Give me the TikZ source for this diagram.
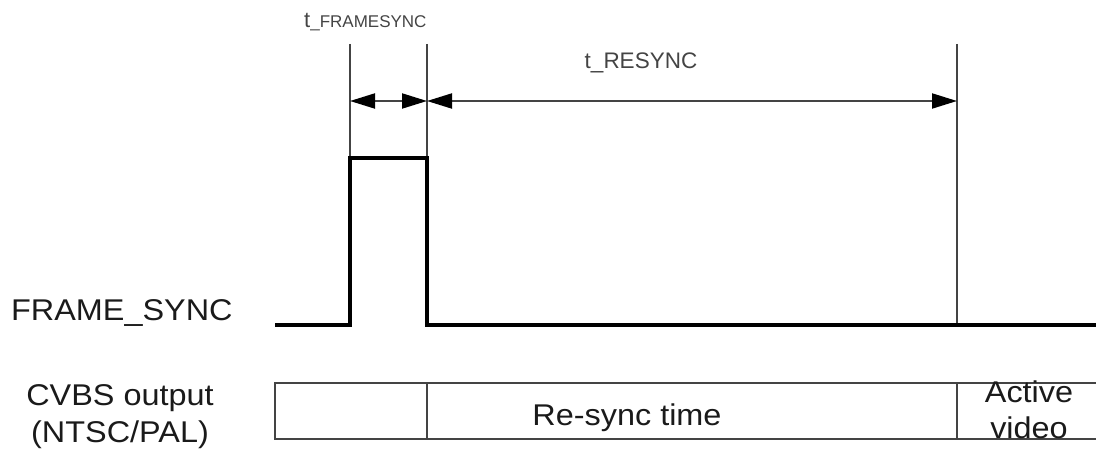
\documentclass[tikz,border=0pt]{standalone}
\usepackage{fontspec}
\setmainfont{Liberation Sans}
\usetikzlibrary{arrows.meta}
\definecolor{thin}{HTML}{444444}
\definecolor{txt}{HTML}{1A1A1A}
\newcommand{\wide}[1]{\scalebox{1.08}[1]{#1}}
\begin{document}
\begin{tikzpicture}[x=1pt,y=-1pt,
  thinline/.style={draw=thin,line width=2pt},
  sig/.style={draw=black,line width=4.5pt,line join=miter},
  dim/.style={draw=thin,line width=2pt,{Triangle[length=25pt,width=15pt,color=black]}-{Triangle[length=25pt,width=15pt,color=black]}},
  big/.style={font=\fontsize{30}{37}\selectfont,text=txt,inner sep=0pt},
  lab/.style={text=thin,inner sep=0pt}]
\useasboundingbox (0,0) rectangle (1096,449);
% key coordinates
\coordinate (a0) at (350,44);
\coordinate (b0) at (427,44);
\coordinate (c0) at (957,44);
\coordinate (aA) at (350,101);
\coordinate (bA) at (427,101);
\coordinate (cA) at (957,101);
\coordinate (s0) at (275,325);
\coordinate (s1) at (350,325);
\coordinate (s2) at (350,158);
\coordinate (s3) at (427,158);
\coordinate (s4) at (427,325);
\coordinate (s5) at (1096,325);
\coordinate (cB) at (957,325);
% vertical markers
\draw[thinline] (a0) -- (s2);
\draw[thinline] (b0) -- (s3);
\draw[thinline] (c0) -- (cB);
% dimension arrows
\draw[dim] (aA) -- (bA);
\draw[dim] (bA) -- (cA);
% signal
\draw[sig] (s0) -- (s1) -- (s2) -- (s3) -- (s4) -- (s5);
% CVBS box
\coordinate (bx0) at (275,383);
\coordinate (bx1) at (275,439);
\coordinate (bx2) at (1096,383);
\coordinate (bx3) at (1096,439);
\coordinate (d1t) at (427,383);
\coordinate (d1b) at (427,439);
\coordinate (d2t) at (957,383);
\coordinate (d2b) at (957,439);
\draw[thinline] (bx2) -- (bx0) -- (bx1) -- (bx3);
\draw[thinline] (d1t) -- (d1b);
\draw[thinline] (d2t) -- (d2b);
% labels
\node[lab,anchor=base west] (tfs) at (304,28) {{\fontsize{22}{24}\selectfont t}{\fontsize{17}{20}\selectfont\_FRAMESYNC}};
\node[lab,anchor=base,font=\fontsize{22.5}{26}\selectfont] (trs) at (641,69) {t\_RESYNC};
\node[big,anchor=base west] (fsl) at (11,320) {\wide{FRAME\_SYNC}};
\node[big,anchor=base] (cvbs1) at (120,405) {\wide{CVBS output}};
\node[big,anchor=base] (cvbs2) at (120,442) {\wide{(NTSC/PAL)}};
\node[big,anchor=base] (rst) at (627,425) {\wide{Re-sync time}};
\node[big,anchor=base] (act1) at (1029,402) {\wide{Active}};
\node[big,anchor=base] (act2) at (1029,438) {\wide{video}};
\end{tikzpicture}
\end{document}
